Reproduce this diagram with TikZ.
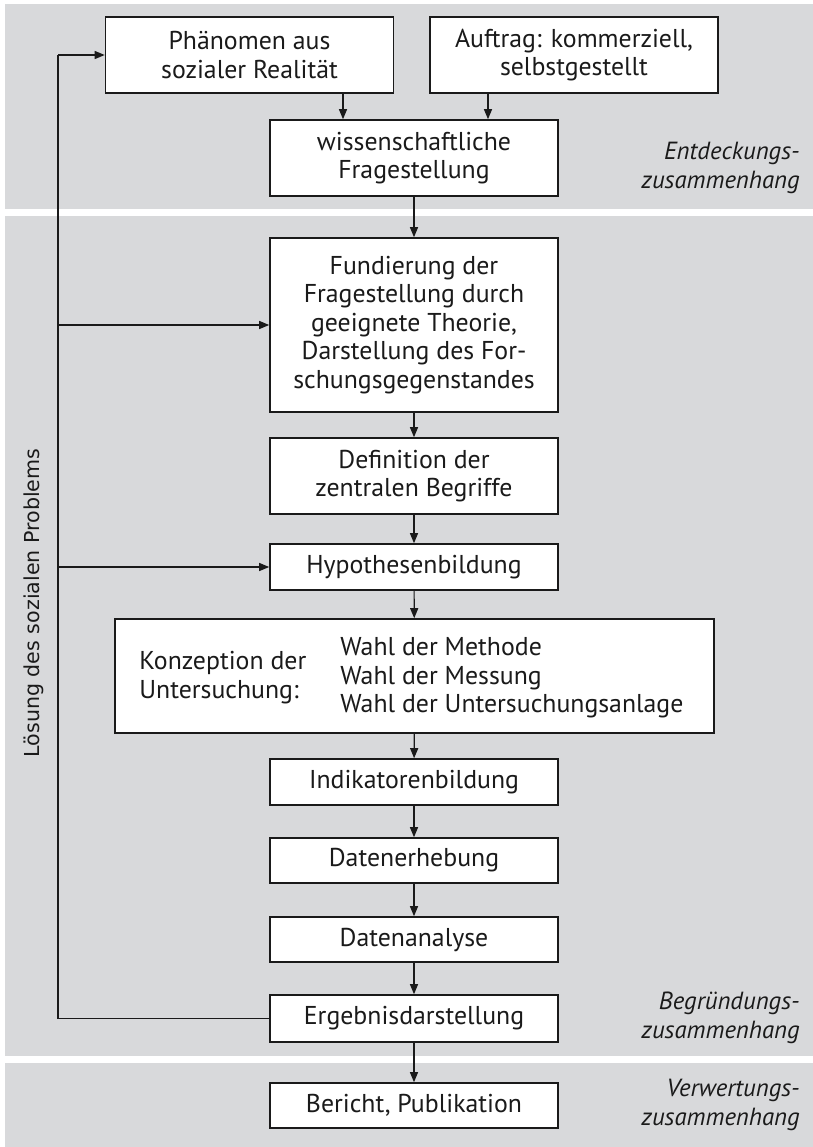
\documentclass[tikz,border=0pt]{standalone}
\usepackage{fontspec}
\setmainfont{PT Sans}
\newfontfamily\labfont{DejaVu Sans}
\usetikzlibrary{arrows.meta,calc}
\definecolor{bandgray}{RGB}{216,217,219}
\definecolor{ink}{RGB}{26,26,26}
\begin{document}
\begin{tikzpicture}[x=0.5pt,y=-0.5pt,
  box/.style={draw=ink, line width=0.8pt, fill=white, minimum width=144pt,
    align=center, inner sep=0pt, text=ink, font=\fontsize{12.9}{14.25}\selectfont},
  arr/.style={draw=ink, line width=0.6pt, -{Triangle[length=5pt,width=4pt]}},
  fbline/.style={draw=ink, line width=0.7pt},
  side/.style={anchor=east, align=right, inner sep=0pt, text=ink,
    font=\fontsize{12.4}{14.5}\selectfont\itshape},
  plain/.style={anchor=west, align=left, inner sep=0pt, text=ink,
    font=\fontsize{12.9}{14.25}\selectfont}
]
\useasboundingbox (0,0) rectangle (813,1147);
% bands
\fill[bandgray] (5,4) rectangle (813,209);
\fill[bandgray] (5,216) rectangle (813,1056);
\fill[bandgray] (5,1063) rectangle (813,1147);

% boxes
\node[box, minimum height=38pt] (phen) at (249.5,55) {Phänomen aus\\sozialer Realität};
\node[box, minimum height=38pt] (auft) at (574,55) {Auftrag: kommerziell,\\selbstgestellt};
\node[box, minimum height=38pt] (wiss) at (414,158) {wissenschaftliche\\Fragestellung};
\node[box, minimum height=87pt] (fund) at (414,325) {Fundierung der\\Fragestellung durch\\geeignete Theorie,\\Darstellung des For-\\schungsgegenstandes};
\node[box, minimum height=38pt] (defn) at (414,476) {Definition der\\zentralen Begriffe};
\node[box, minimum height=23pt] (hyp) at (414,567) {Hypothesenbildung};
\node[box, minimum height=57pt, minimum width=299.5pt] (konz) at (414.5,676) {};
\node[plain] (konzl) at (139,677.5) {Konzeption der\\Untersuchung:};
\node[plain] (konzr) at (340,678) {Wahl der Methode\\Wahl der Messung\\Wahl der Untersuchungsanlage};
\node[box, minimum height=23pt] (ind) at (414,782) {Indikatorenbildung};
\node[box, minimum height=22.5pt] (dat) at (414,860.5) {Datenerhebung};
\node[box, minimum height=22.5pt] (ana) at (414,939.5) {Datenanalyse};
\node[box, minimum height=23.5pt] (erg) at (414,1018.5) {Ergebnisdarstellung};
\node[box, minimum height=22.5pt] (ber) at (414,1105.5) {Bericht, Publikation};

% side labels
\node[side] (l1) at (800,167.5) {Entdeckungs-\\zusammenhang};
\node[side] (l2) at (800,1017.5) {Begründungs-\\zusammenhang};
\node[side] (l3) at (800,1105) {Verwertungs-\\zusammenhang};
\node[rotate=90, inner sep=0pt, text=ink, font=\labfont\fontsize{10.3}{12}\selectfont] (sol) at (34,603) {Lösung des sozialen Problems};

% arrows
\coordinate (p1) at ($(phen.south)+(93.5,0)$);
\coordinate (a1) at ($(auft.south)+(-86,0)$);
\draw[arr] (p1) -- (p1 |- wiss.north);
\draw[arr] (a1) -- (a1 |- wiss.north);
\draw[arr] (wiss) -- (fund);
\draw[arr] (fund) -- (defn);
\draw[arr] (defn) -- (hyp);
\draw[arr] (hyp) -- (konz);
\draw[arr] (konz) -- (ind);
\draw[arr] (ind) -- (dat);
\draw[arr] (dat) -- (ana);
\draw[arr] (ana) -- (erg);
\draw[arr] (erg) -- (ber);

% feedback
\coordinate (fb) at (58,0);
\draw[fbline] (erg.west) -- (erg.west -| fb) -- (phen.west -| fb);
\draw[arr] (phen.west -| fb) -- (phen.west);
\draw[arr] (fund.west -| fb) -- (fund.west);
\draw[arr] (hyp.west -| fb) -- (hyp.west);
\end{tikzpicture}
\end{document}
